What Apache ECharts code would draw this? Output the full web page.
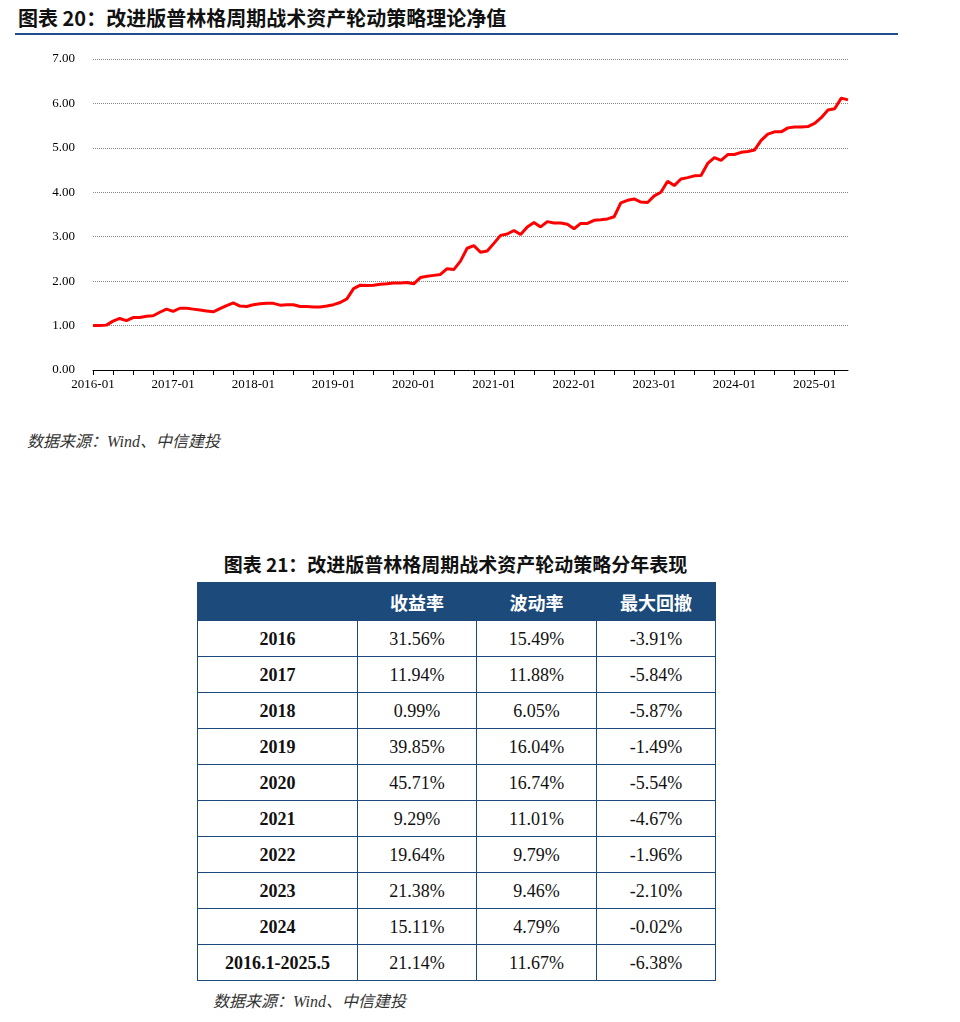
<!DOCTYPE html>
<html><head><meta charset="utf-8">
<script src="https://cdn.jsdelivr.net/npm/echarts@6/dist/echarts.min.js"></script>
<style>
body{margin:0;background:#fff;width:960px;height:1022px;position:relative;font-family:"Noto Sans CJK SC",sans-serif}
#t1{position:absolute;left:18px;top:3px;font-size:20px;font-weight:bold;color:#111}
#ln{position:absolute;left:15px;top:33px;width:883px;height:2px;background:#1f4e8c}
#chart{position:absolute;left:0;top:40px;width:900px;height:370px}
.src{position:absolute;font-style:italic;font-size:16px;color:#333;font-family:"Liberation Serif","Noto Sans CJK SC",serif}
#t2{position:absolute;left:197px;top:550px;width:517px;text-align:center;font-size:19px;font-weight:bold;color:#111}
table{position:absolute;left:197px;top:582px;width:518px;border-collapse:collapse;table-layout:fixed;font-family:"Liberation Serif",serif;font-size:18px}
th{background:#1c4a7a;color:#fff;height:37px;padding:0;font-family:"Noto Sans CJK SC",sans-serif;font-size:18px;font-weight:bold;border:1px solid #1c4a7a}
td{height:35px;padding:0;line-height:20px;border:1px solid #1c4a7a;text-align:center;color:#111}
td:first-child{font-weight:bold}
</style></head><body>
<div id="t1">图表 20：改进版普林格周期战术资产轮动策略理论净值</div>
<div id="ln"></div>
<div id="chart"></div>
<div class="src" style="left:27px;top:428px">数据来源：Wind、中信建投</div>
<div id="t2">图表 21：改进版普林格周期战术资产轮动策略分年表现</div>
<table id="tb"><colgroup><col style="width:160px"><col style="width:119px"><col style="width:120px"><col style="width:119px"></colgroup></table>
<div class="src" style="left:213px;top:988px">数据来源：Wind、中信建投</div>
<script>
var navValues = [
1.00,1.00,1.01,1.10,1.16,1.11,1.18,1.18,1.21,1.22,1.30,1.37,
1.32,1.39,1.39,1.37,1.35,1.33,1.31,1.38,1.45,1.51,1.44,1.43,
1.47,1.49,1.50,1.50,1.46,1.47,1.47,1.43,1.43,1.42,1.42,1.44,
1.47,1.52,1.60,1.83,1.91,1.90,1.91,1.93,1.94,1.96,1.96,1.97,
1.94,2.08,2.11,2.13,2.15,2.28,2.26,2.45,2.74,2.80,2.65,2.68,
2.85,3.03,3.06,3.14,3.05,3.22,3.32,3.22,3.34,3.31,3.31,3.28,
3.18,3.30,3.30,3.37,3.38,3.40,3.45,3.76,3.82,3.85,3.78,3.77,
3.92,4.00,4.25,4.15,4.30,4.33,4.37,4.38,4.65,4.78,4.72,4.85,
4.85,4.90,4.92,4.95,5.17,5.31,5.36,5.36,5.45,5.47,5.47,5.48,
5.55,5.68,5.85,5.88,6.12,6.08
];
var months = [];
for (var i = 0; i < navValues.length; i++) {
    var y = 2016 + Math.floor(i / 12), m = i % 12 + 1;
    months.push(y + '-' + (m < 10 ? '0' + m : m));
}
var tableHead = ['', '收益率', '波动率', '最大回撤'];
var tableYears = ['2016','2017','2018','2019','2020','2021','2022','2023','2024','2016.1-2025.5'];
var tableReturn = ['31.56%','11.94%','0.99%','39.85%','45.71%','9.29%','19.64%','21.38%','15.11%','21.14%'];
var tableVol = ['15.49%','11.88%','6.05%','16.04%','16.74%','11.01%','9.79%','9.46%','4.79%','11.67%'];
var tableDD = ['-3.91%','-5.84%','-5.87%','-1.49%','-5.54%','-4.67%','-1.96%','-2.10%','-0.02%','-6.38%'];

var html = '<tr>' + tableHead.map(function (h) { return '<th>' + h + '</th>'; }).join('') + '</tr>';
tableYears.forEach(function (y, i) {
    html += '<tr><td>' + y + '</td><td>' + tableReturn[i] + '</td><td>' + tableVol[i] + '</td><td>' + tableDD[i] + '</td></tr>';
});
document.getElementById('tb').innerHTML += html;

var chart = echarts.init(document.getElementById('chart'));
chart.setOption({
    animation: false,
    grid: {left: 93, right: 52, top: 19, bottom: 40},
    xAxis: {
        type: 'category', data: months, boundaryGap: false,
        axisLine: {lineStyle: {color: '#000'}},
        axisTick: {interval: 2, lineStyle: {color: '#000'}, length: 5},
        axisLabel: {interval: 11, color: '#000', fontFamily: 'Liberation Serif', fontSize: 13}
    },
    yAxis: {
        type: 'value', min: 0, max: 7, interval: 1,
        axisLine: {show: false}, axisTick: {show: false},
        axisLabel: {color: '#000', fontFamily: 'Liberation Serif', fontSize: 13, margin: 18,
            formatter: function (v) { return v.toFixed(2); }},
        splitLine: {lineStyle: {color: '#888', type: 'dotted'}}
    },
    series: [{
        type: 'line', data: navValues, showSymbol: false,
        lineStyle: {color: '#ff0000', width: 3}
    }]
});
</script>
</body></html>
